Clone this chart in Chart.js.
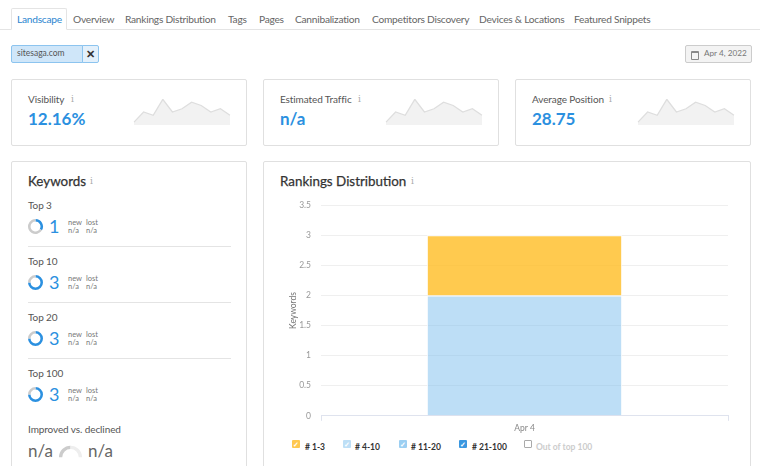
<!DOCTYPE html>
<html>
<head>
<meta charset="utf-8">
<script src="https://cdn.jsdelivr.net/npm/chart.js@4"></script>
<style>
html, body { margin: 0; padding: 0; background: #fff; }
body { width: 760px; height: 466px; overflow: hidden; position: relative; font-family: "Lato", sans-serif; color: #555; }
.abs { position: absolute; white-space: nowrap; }
.box { position: absolute; box-sizing: border-box; background: #fff; border: 1px solid #e0e0e0; border-radius: 2px; }
.tab { position: absolute; top: 13px; font-size: 10.2px; letter-spacing: -0.25px; line-height: 13px; color: #666; white-space: nowrap; }
.info { font-family: "DejaVu Serif", serif; color: #aaa; font-size: 9px; }
canvas { position: absolute; }
.big { color: #2b90e0; font-weight: 700; }
.label { font-size: 10px; letter-spacing: -0.1px; color: #555; }
.heading { font-size: 13.4px; line-height: 17px; -webkit-text-stroke: 0.25px #333; color: #333; }
.small { font-size: 7.5px; line-height: 8px; color: #777; }
.legend { position: absolute; top: 442px; font-size: 8.5px; line-height: 10px; font-weight: 700; color: #333; white-space: nowrap; }
.check { position: absolute; top: 440px; width: 8px; height: 8px; border-radius: 1px; color: #fff; font-size: 7px; font-weight: 700; line-height: 8px; text-align: center; }
</style>
</head>
<body>
<div class="abs" style="left:0;top:29px;width:760px;height:1px;background:#e4e4e4"></div>
<div class="abs" id="activeTab" style="left:11px;top:8px;width:56px;height:22px;box-sizing:border-box;border:1px solid #e4e4e4;border-bottom:1px solid #fff;border-radius:2px 2px 0 0;background:#fff"></div>
<div id="tabs"></div>

<div class="abs" style="left:11px;top:45px;width:72px;height:18px;box-sizing:border-box;background:#cfe6f9;border:1px solid #8cc4ef;border-radius:2px 0 0 2px;font-size:8.5px;line-height:15px;padding-left:5px;color:#555">sitesaga.com</div>
<div class="abs" style="left:82px;top:45px;width:17px;height:18px;box-sizing:border-box;background:#e3f0fb;border:1px solid #8cc4ef;border-radius:0 2px 2px 0;font-size:11px;line-height:16px;text-align:center;font-weight:700;color:#333">&#10005;</div>
<div class="abs" style="left:685px;top:45px;width:67px;height:18px;box-sizing:border-box;background:#f3f3f3;border:1px solid #ccc;border-radius:2px;font-size:8.2px;line-height:15px;padding-left:18px;color:#777">Apr 4, 2022</div>
<div class="abs" style="left:691px;top:51px;width:6px;height:6px;border:1px solid #888;border-top:2px solid #888;border-radius:1px"></div>

<div class="box" style="left:11px;top:79px;width:236px;height:67px"></div>
<div class="box" style="left:263px;top:79px;width:236px;height:67px"></div>
<div class="box" style="left:515px;top:79px;width:236px;height:67px"></div>
<div class="box" style="left:11px;top:161px;width:236px;height:320px"></div>
<div class="box" style="left:263px;top:161px;width:488px;height:320px"></div>

<div id="cards"></div>

<div class="abs heading" style="left:28px;top:173px">Keywords</div>
<div class="abs info" style="left:90px;top:176px">i</div>
<div class="abs heading" style="left:280px;top:173px">Rankings Distribution</div>
<div class="abs info" style="left:411px;top:176px">i</div>
<div id="keywords"></div>

<canvas id="chart" style="left:270px;top:190px"></canvas>
<div id="legend"></div>

<script>
'use strict';

// Tabs along the top.
const tabLabels = ['Landscape', 'Overview', 'Rankings Distribution', 'Tags', 'Pages', 'Cannibalization', 'Competitors Discovery', 'Devices & Locations', 'Featured Snippets'];
const tabLefts = [17, 73, 125, 228, 259, 295, 372, 479, 574];

// Summary cards.
const cardTitles = ['Visibility', 'Estimated Traffic', 'Average Position'];
const cardValues = ['12.16%', 'n/a', '28.75'];
const cardLefts = [28, 280, 532];
const infoLefts = [71, 358, 609];
const sparkLefts = [132, 384, 636];
const sparkValues = [9, 40, 30, 79, 40, 50, 70, 60, 40, 50, 30];
const sparkLabels = sparkValues.map((v, i) => i);

// Keywords panel.
const keywordTitles = ['Top 3', 'Top 10', 'Top 20', 'Top 100'];
const keywordCounts = [1, 3, 3, 3];
const keywordTops = [199, 255, 311, 367];
const ringBlue = [1, 3, 3, 3];
const ringGrey = [2, 1, 1, 1];

// Rankings distribution chart.
const dates = ['Apr 4'];
const seriesNames = ['# 1-3', '# 4-10', '# 11-20', '# 21-100', 'Out of top 100'];
const seriesColors = ['rgba(255,190,40,0.82)', 'rgba(124,189,238,0.5)', 'rgba(124,189,238,0.75)', '#3a97e0', '#ffffff'];
const top3 = [1];
const top4to10 = [2];
const top11to20 = [0];
const top21to100 = [0];
const outOfTop100 = [0];
const legendLefts = [291, 342, 398, 458, 523];
const legendTextLefts = [305, 355, 411, 472, 536];

function addHtml(parentId, html) {
    document.getElementById(parentId).insertAdjacentHTML('beforeend', html);
}

tabLabels.forEach((label, i) => {
    let color = i == 0 ? '#2b86d0' : '#666';
    addHtml('tabs', `<div class="tab" style="left:${tabLefts[i]}px;color:${color}">${label.replace('&', '&amp;')}</div>`);
});

cardTitles.forEach((title, i) => {
    addHtml('cards', `<div class="abs label" style="left:${cardLefts[i]}px;top:93px">${title}</div>`);
    addHtml('cards', `<div class="abs info" style="left:${infoLefts[i]}px;top:94px">i</div>`);
    addHtml('cards', `<div class="abs big" style="left:${cardLefts[i]}px;top:108px;font-size:17px;line-height:22px">${cardValues[i]}</div>`);
    addHtml('cards', `<canvas id="spark${i}" style="left:${sparkLefts[i]}px;top:97px"></canvas>`);
    let el = document.getElementById('spark' + i);
    el.style.width = '100px';
    el.style.height = '30px';
    new Chart(el, {
        type: 'line',
        data: {
            labels: sparkLabels,
            datasets: [{
                data: sparkValues,
                borderColor: '#dedede',
                borderWidth: 1.3,
                backgroundColor: '#f2f2f2',
                fill: true,
                pointRadius: 0,
                tension: 0,
            }],
        },
        options: {
            responsive: false,
            animation: false,
            layout: { padding: { left: 2, right: 2, top: 2, bottom: 2 } },
            plugins: { legend: { display: false }, tooltip: { enabled: false } },
            scales: {
                x: { display: false },
                y: { display: false, min: 0, max: 80 },
            },
        },
    });
});

keywordTitles.forEach((title, i) => {
    let top = keywordTops[i];
    addHtml('keywords', `<div class="abs label" style="left:28px;top:${top}px">${title}</div>`);
    addHtml('keywords', `<div class="abs" style="left:49px;top:${top + 16}px;font-size:18px;line-height:22px;color:#2b90e0">${keywordCounts[i]}</div>`);
    addHtml('keywords', `<div class="abs small" style="left:68px;top:${top + 20}px">new<br>n/a</div>`);
    addHtml('keywords', `<div class="abs small" style="left:86px;top:${top + 20}px">lost<br>n/a</div>`);
    if (i < 3) {
        addHtml('keywords', `<div class="abs" style="left:28px;top:${top + 47}px;width:203px;height:1px;background:#e4e4e4"></div>`);
    }
    addHtml('keywords', `<canvas id="ring${i}" style="left:27px;top:${top + 19}px"></canvas>`);
    let el = document.getElementById('ring' + i);
    el.style.width = '17px';
    el.style.height = '17px';
    new Chart(el, {
        type: 'doughnut',
        data: {
            datasets: [{
                data: [ringBlue[i], ringGrey[i]],
                backgroundColor: ['#2b90e0', '#cccccc'],
                borderWidth: 0,
            }],
        },
        options: {
            responsive: false,
            animation: false,
            cutout: '66%',
            layout: { padding: 1 },
            plugins: { legend: { display: false }, tooltip: { enabled: false } },
        },
    });
});

addHtml('keywords', `<div class="abs label" style="left:28px;top:423px">Improved vs. declined</div>`);
addHtml('keywords', `<div class="abs" style="left:28px;top:440px;font-size:17px;line-height:22px;color:#666">n/a</div>`);
addHtml('keywords', `<div class="abs" style="left:88px;top:440px;font-size:17px;line-height:22px;color:#666">n/a</div>`);
addHtml('keywords', `<canvas id="gauge" style="left:56.5px;top:437.75px"></canvas>`);
let gaugeEl = document.getElementById('gauge');
gaugeEl.style.width = '27px';
gaugeEl.style.height = '27px';
new Chart(gaugeEl, {
    type: 'doughnut',
    data: { datasets: [{ data: [1, 1], backgroundColor: ['#cccccc', '#eeeeee'], borderWidth: 0 }] },
    options: {
        responsive: false,
        animation: false,
        rotation: -90,
        circumference: 180,
        cutout: '72%',
        layout: { padding: 2 },
        plugins: { legend: { display: false }, tooltip: { enabled: false } },
    },
});

// Main stacked chart: bottom of the stack comes first.
let chartEl = document.getElementById('chart');
chartEl.style.width = '470px';
chartEl.style.height = '245px';
new Chart(chartEl, {
    type: 'bar',
    data: {
        labels: dates,
        datasets: [
            { label: seriesNames[4], data: outOfTop100, backgroundColor: seriesColors[4], hidden: true },
            { label: seriesNames[3], data: top21to100, backgroundColor: seriesColors[3] },
            { label: seriesNames[2], data: top11to20, backgroundColor: seriesColors[2] },
            { label: seriesNames[1], data: top4to10, backgroundColor: seriesColors[1], borderColor: '#fff', borderWidth: 1 },
            { label: seriesNames[0], data: top3, backgroundColor: seriesColors[0], borderColor: '#fff', borderWidth: 1 },
        ],
    },
    options: {
        responsive: false,
        animation: false,
        datasets: { bar: { barPercentage: 0.48, categoryPercentage: 1 } },
        layout: { padding: { left: 0, right: 12, top: 10, bottom: 0 } },
        plugins: { legend: { display: false }, tooltip: { enabled: false } },
        scales: {
            x: {
                stacked: true,
                grid: { display: true, drawOnChartArea: false, drawTicks: true, tickLength: 5, color: '#dfe3ee' },
                border: { color: '#dfe3ee' },
                ticks: { color: '#888', font: { family: 'Lato', size: 8.5 }, padding: 2 },
            },
            y: {
                stacked: true,
                min: 0,
                max: 3.5,
                grid: { color: '#efefef', drawTicks: false },
                border: { display: false },
                ticks: {
                    stepSize: 0.5,
                    color: '#999',
                    font: { family: 'Lato', size: 8.5 },
                    padding: 10,
                    callback: function(value) { return String(value); },
                },
                title: { display: true, text: 'Keywords', color: '#777', font: { family: 'Lato', size: 8.5 }, padding: { top: 18, bottom: 0 } },
                afterFit: function(scale) { scale.width = 51; },
            },
        },
    },
});

// Legend with checkboxes.
const legendBoxColors = ['#ffc850', '#bedff6', '#9ccff2', '#3a97e0', '#ffffff'];
seriesNames.forEach((name, i) => {
    let off = i == 4;
    let border = off ? '1px solid #aaa' : 'none';
    addHtml('legend', `<div class="check" style="left:${legendLefts[i] + 1}px;background:${legendBoxColors[i]};border:${border};box-sizing:border-box">${off ? '' : '&#10003;'}</div>`);
    addHtml('legend', `<div class="legend" style="left:${legendTextLefts[i]}px;color:${off ? '#ccc' : '#333'}">${name}</div>`);
});
</script>
</body>
</html>
